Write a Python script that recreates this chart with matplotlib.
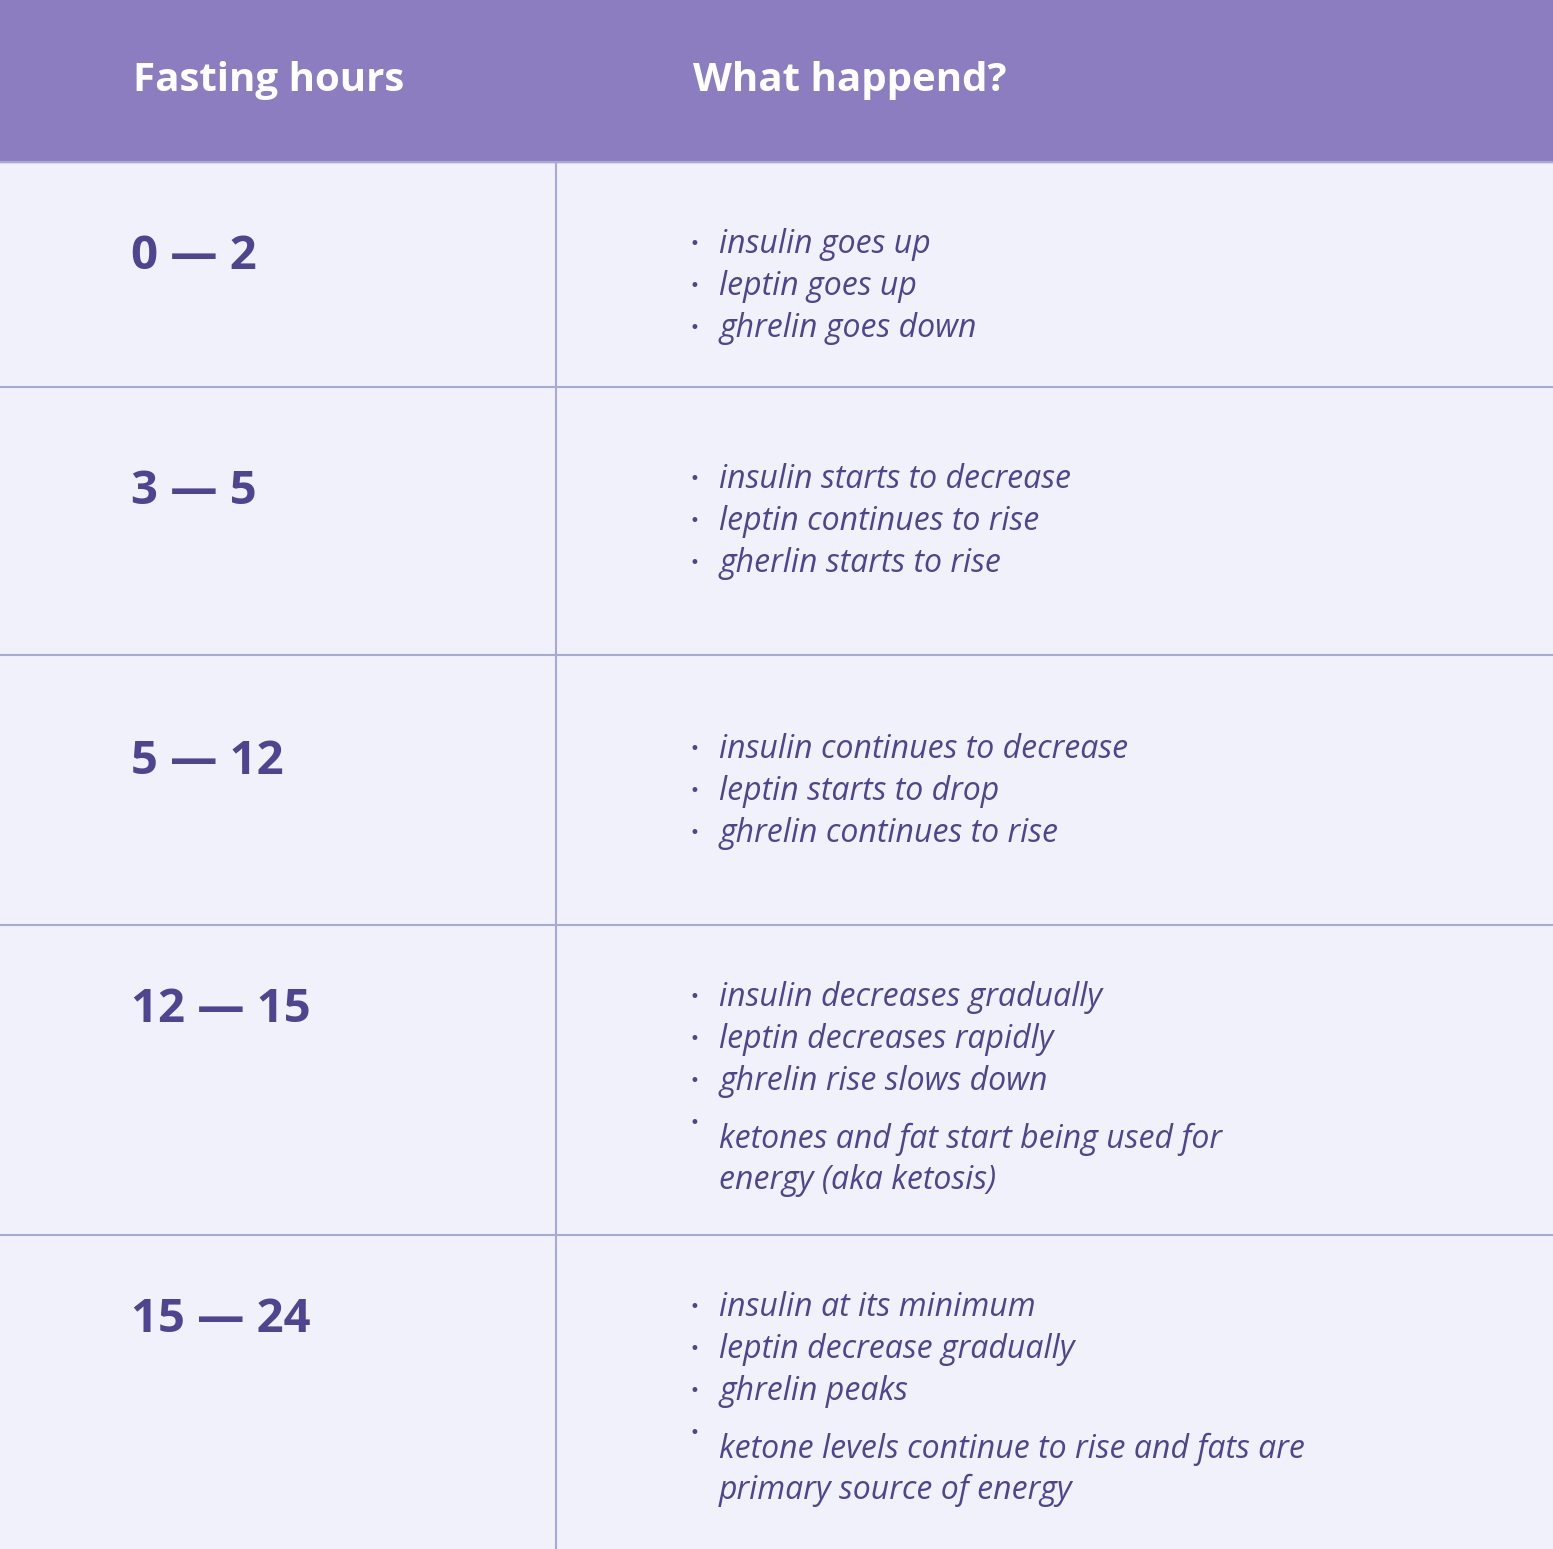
import matplotlib
matplotlib.use("Agg")
import matplotlib.pyplot as plt

headers = ["Fasting hours", "What happend?"]
ranges = ["0 — 2", "3 — 5", "5 — 12", "12 — 15", "15 — 24"]
events = [
    ["insulin goes up", "leptin goes up", "ghrelin goes down"],
    ["insulin starts to decrease", "leptin continues to rise", "gherlin starts to rise"],
    ["insulin continues to decrease", "leptin starts to drop", "ghrelin continues to rise"],
    ["insulin decreases gradually", "leptin decreases rapidly", "ghrelin rise slows down",
     "ketones and fat start being used for\nenergy (aka ketosis)"],
    ["insulin at its minimum", "leptin decrease gradually", "ghrelin peaks",
     "ketone levels continue to rise and fats are\nprimary source of energy"],
]
row_edges = [162, 387, 655, 925, 1235, 1549]

W, H = 1553, 1549
fig = plt.figure(figsize=(W/100, H/100), dpi=100)
ax = fig.add_axes([0, 0, 1, 1])
ax.set_xlim(0, W); ax.set_ylim(H, 0); ax.axis("off")
txt = "#4F4490"; line = "#A9A9D6"
ax.add_patch(plt.Rectangle((0, 162), W, H-162, color="#F1F1FC", zorder=0))
ax.add_patch(plt.Rectangle((0, 0), W, 162, color="#8C7DC1", zorder=1))
ax.text(133, 80, headers[0], color="white", fontsize=29, fontweight="bold", family="Open Sans", va="center")
ax.text(693, 80, headers[1], color="white", fontsize=29, fontweight="bold", family="Open Sans", va="center")
ax.plot([556, 556], [162, H], color=line, lw=1.5)
for y in row_edges[1:-1]:
    ax.plot([0, W], [y, y], color=line, lw=1.5)
ax.plot([0, W], [162, 162], color=line, lw=1.5)
for i, (r, ev) in enumerate(zip(ranges, events)):
    top = row_edges[i]
    off = 82 if i == 0 else 92 if i == 1 else 94 if i == 2 else 72
    y0 = top + off
    ax.text(131, y0 + 12, r, color=txt, fontsize=34, fontweight="bold", family="Open Sans", va="center")
    y = y0
    for e in ev:
        ax.text(694, y, "•", color=txt, fontsize=12, va="center", ha="center")
        ax.text(719, y, e, color=txt, fontsize=23, style="italic", family="Open Sans",
                va="top", linespacing=1.3, transform=ax.transData) if "\n" in e else \
        ax.text(719, y, e, color=txt, fontsize=23, style="italic", family="Open Sans", va="center")
        if "\n" in e:
            pass
        y += 42
fig.savefig("out.png", dpi=100)
